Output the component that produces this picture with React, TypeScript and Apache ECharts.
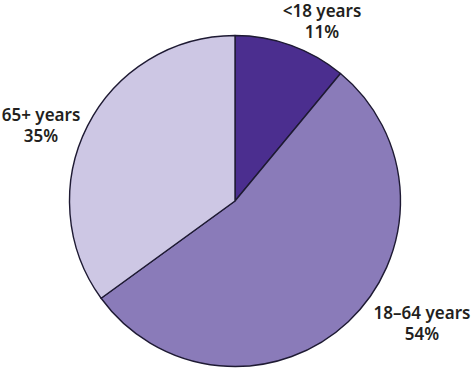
import React, { useEffect, useRef } from "react";
import * as echarts from "echarts";

const categories = ["<18 years", "18–64 years", "65+ years"];
const values = [11, 54, 35];
const colors = ["#4b2e8f", "#8a7bb9", "#cdc7e4"];
const labelPos = [
  [322, 21],
  [422, 323],
  [41, 125],
];

export default function App() {
  const ref = useRef<HTMLDivElement>(null);
  useEffect(() => {
    const chart = echarts.init(ref.current!, null, { renderer: "svg" });
    chart.setOption({
      animation: false,
      backgroundColor: "#ffffff",
      series: [
        {
          type: "pie",
          center: [235, 201],
          radius: [0, 165.5],
          startAngle: 90,
          clockwise: true,
          data: categories.map((c, i) => ({
            name: c,
            value: values[i],
            itemStyle: { color: colors[i] },
          })),
          itemStyle: { borderColor: "#1e1a33", borderWidth: 1.4 },
          label: {
            show: true,
            position: "outside",
            alignTo: "none",
            overflow: "none",
            formatter: "{b}\n{c}%",
            color: "#231f20",
            fontFamily: "Noto Sans",
            fontWeight: 600,
            fontSize: 17,
            lineHeight: 21,
            align: "center",
          },
          labelLine: { show: false },
          labelLayout: (p: any) => ({
            x: labelPos[p.dataIndex][0],
            y: labelPos[p.dataIndex][1],
            align: "center",
            verticalAlign: "middle",
          }),
          emphasis: { disabled: true },
        },
      ],
    });
    return () => chart.dispose();
  }, []);
  return (
    <div
      ref={ref}
      style={{ position: "fixed", left: 0, top: 0, width: 474, height: 372 }}
    />
  );
}
